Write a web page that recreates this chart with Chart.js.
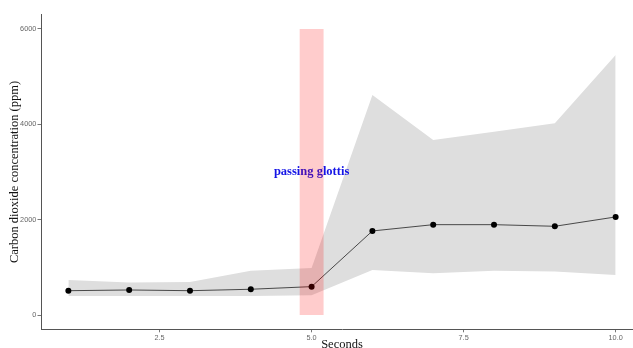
<!DOCTYPE html>
<html>
<head>
<meta charset="utf-8">
<script src="https://cdn.jsdelivr.net/npm/chart.js@4"></script>
<style>
  html, body { margin: 0; padding: 0; background: #fff; overflow: hidden; }
  #wrap { width: 633px; height: 348px; overflow: hidden; position: relative; }
</style>
</head>
<body>
<div id="wrap"><canvas id="co2" width="643" height="360"></canvas></div>
<script>
// seconds and mean CO2 (ppm)
const seconds = [1, 2, 3, 4, 5, 6, 7, 8, 9, 10];
const meanPpm = [510, 525, 510, 540, 595, 1763, 1895, 1895, 1861, 2057];
// ribbon bounds
const upperPpm = [735, 680, 690, 930, 985, 4617, 3673, 3847, 4023, 5456];
const lowerPpm = [400, 400, 400, 400, 415, 944, 875, 930, 910, 840];

// glottis marker
const glottisStart = 4.8;
const glottisEnd = 5.2;
const glottisTop = 6000;
const glottisLabel = 'passing glottis';
const glottisLabelAt = [5, 3000];

const xTicks = [2.5, 5, 7.5, 10];
const xTickLabels = ['2.5', '5.0', '7.5', '10.0'];
const yTicks = [0, 2000, 4000, 6000];
const yTickLabels = ['0', '2000', '4000', '6000'];

const toPts = (ys) => seconds.map((x, i) => ({x: x, y: ys[i]}));

// text label, drawn before the red band so the band tints it
const labelPlugin = {
  id: 'glottisText',
  afterDatasetDraw(chart, args) {
    if (args.index !== 1) return;
    const ctx = chart.ctx;
    const px = chart.scales.x.getPixelForValue(glottisLabelAt[0]);
    const py = chart.scales.y.getPixelForValue(glottisLabelAt[1]);
    ctx.save();
    ctx.font = 'bold 12.5px "Liberation Serif", serif';
    ctx.fillStyle = '#1414e6';
    ctx.textAlign = 'center';
    ctx.textBaseline = 'middle';
    ctx.fillText(glottisLabel, px, py);
    ctx.restore();
  }
};

const tickFont = {family: '"Liberation Sans", sans-serif', size: 7.3};
const titleFont = {family: '"Liberation Serif", serif', size: 12.5};

const data = {
  datasets: [
    {
      // red band
      data: [{x: glottisStart, y: glottisTop}, {x: glottisEnd, y: glottisTop}],
      borderWidth: 0,
      pointRadius: 0,
      backgroundColor: 'rgba(255, 0, 0, 0.2)',
      fill: {value: 0}
    },
    {
      data: toPts(meanPpm),
      borderColor: '#222',
      borderWidth: 0.8,
      pointRadius: 3,
      pointBackgroundColor: '#000',
      pointBorderWidth: 0,
      fill: false
    },
    {
      data: toPts(upperPpm),
      borderWidth: 0,
      pointRadius: 0,
      backgroundColor: '#dedede',
      fill: '+1'
    },
    {
      data: toPts(lowerPpm),
      borderWidth: 0,
      pointRadius: 0,
      fill: false
    }
  ]
};

const config = {
  type: 'line',
  data,
  options: {
    responsive: false,
    animation: false,
    devicePixelRatio: 1,
    // plot box runs a little past the window on the right, like the original crop
    layout: { autoPadding: false, padding: {top: 14.7, left: 0, right: 0, bottom: 0} },
    plugins: {
      legend: { display: false },
      tooltip: { enabled: false }
    },
    scales: {
      x: {
        type: 'linear',
        min: 0.55,
        max: 10.45,
        afterFit: (s) => { s.height = 30.7; },
        afterBuildTicks: (s) => { s.ticks = xTicks.map(v => ({value: v})); },
        grid: { drawOnChartArea: false, tickLength: 3, color: '#555', tickWidth: 0.8 },
        border: { color: '#555', width: 1 },
        ticks: {
          font: tickFont,
          color: '#666',
          padding: 1,
          maxRotation: 0,
          callback: (v) => xTickLabels[xTicks.indexOf(v)]
        },
        title: {
          display: true,
          text: 'Seconds',
          font: titleFont,
          color: '#111',
          padding: {top: 0, bottom: 7.3}
        }
      },
      y: {
        min: -300,
        max: 6300,
        afterFit: (s) => { s.width = 41; },
        afterBuildTicks: (s) => { s.ticks = yTicks.map(v => ({value: v})); },
        grid: { drawOnChartArea: false, tickLength: 3.5, color: '#555', tickWidth: 0.8 },
        border: { color: '#555', width: 1 },
        ticks: {
          font: tickFont,
          color: '#666',
          padding: 1.2,
          callback: (v) => yTickLabels[yTicks.indexOf(v)]
        },
        title: {
          display: true,
          text: 'Carbon dioxide concentration (ppm)',
          font: titleFont,
          color: '#111',
          padding: {top: 7.5, bottom: 0}
        }
      }
    }
  },
  plugins: [labelPlugin]
};

const ctx = document.getElementById('co2').getContext('2d');
const co2Chart = new Chart(ctx, config);
</script>
</body>
</html>
